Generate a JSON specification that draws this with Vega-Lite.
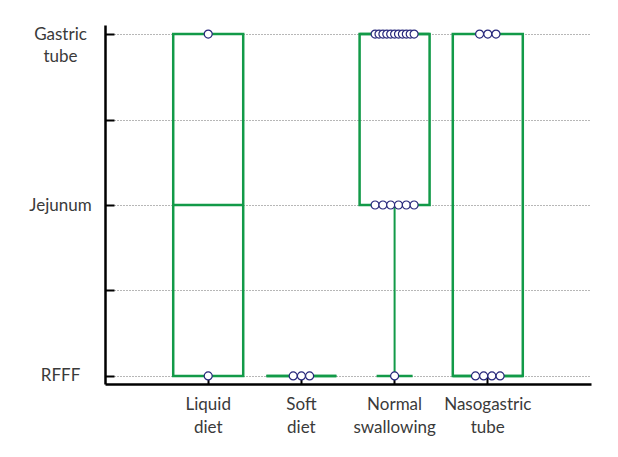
{
  "$schema": "https://vega.github.io/schema/vega-lite/v6.json",
  "width": 486,
  "height": 359,
  "autosize": {"type": "none"},
  "padding": {"left": 105, "top": 25, "right": 27, "bottom": 73},
  "background": "white",
  "config": {
    "view": {"stroke": null},
    "font": "Lato",
    "axis": {"labelFont": "Lato", "labelFontSize": 17, "labelColor": "#3a3a3a"}
  },
  "datasets": {
    "points": [
      {"diet": "Liquid diet", "level": 2},
      {"diet": "Liquid diet", "level": 0},
      {"diet": "Soft diet", "level": 0},
      {"diet": "Soft diet", "level": 0},
      {"diet": "Soft diet", "level": 0},
      {"diet": "Normal swallowing", "level": 2},
      {"diet": "Normal swallowing", "level": 2},
      {"diet": "Normal swallowing", "level": 2},
      {"diet": "Normal swallowing", "level": 2},
      {"diet": "Normal swallowing", "level": 2},
      {"diet": "Normal swallowing", "level": 2},
      {"diet": "Normal swallowing", "level": 2},
      {"diet": "Normal swallowing", "level": 2},
      {"diet": "Normal swallowing", "level": 2},
      {"diet": "Normal swallowing", "level": 2},
      {"diet": "Normal swallowing", "level": 2},
      {"diet": "Normal swallowing", "level": 1},
      {"diet": "Normal swallowing", "level": 1},
      {"diet": "Normal swallowing", "level": 1},
      {"diet": "Normal swallowing", "level": 1},
      {"diet": "Normal swallowing", "level": 1},
      {"diet": "Normal swallowing", "level": 1},
      {"diet": "Normal swallowing", "level": 0},
      {"diet": "Nasogastric tube", "level": 2},
      {"diet": "Nasogastric tube", "level": 2},
      {"diet": "Nasogastric tube", "level": 2},
      {"diet": "Nasogastric tube", "level": 0},
      {"diet": "Nasogastric tube", "level": 0},
      {"diet": "Nasogastric tube", "level": 0},
      {"diet": "Nasogastric tube", "level": 0}
    ],
    "summary": [
      {"diet": "Liquid diet", "lo": 0, "q1": 0, "median": 1, "q3": 2, "hi": 2},
      {"diet": "Soft diet", "lo": 0, "q1": 0, "median": 0, "q3": 0, "hi": 0},
      {"diet": "Normal swallowing", "lo": 0, "q1": 1, "median": 2, "q3": 2, "hi": 2},
      {"diet": "Nasogastric tube", "lo": 0, "q1": 0, "median": 0, "q3": 2, "hi": 2}
    ]
  },
  "encoding": {
    "x": {
      "field": "diet",
      "type": "nominal",
      "sort": ["Liquid diet", "Soft diet", "Normal swallowing", "Nasogastric tube"],
      "scale": {"type": "band", "paddingInner": 0, "paddingOuter": 0.6075},
      "axis": {
        "title": null,
        "labelAngle": 0,
        "labelExpr": "split(datum.label, ' ')",
        "labelLineHeight": 23,
        "labelPadding": 19,
        "tickSize": -7,
        "tickWidth": 2,
        "tickColor": "black",
        "domainColor": "black",
        "domainWidth": 2.5,
        "grid": false
      }
    }
  },
  "layer": [
    {
      "data": {"name": "summary"},
      "mark": {"type": "bar", "fill": null, "fillOpacity": 0, "stroke": "#129a48", "strokeWidth": 2.5, "width": 70},
      "encoding": {
        "y": {
          "field": "q1",
          "type": "quantitative",
          "scale": {"domain": [-0.047, 2.053], "nice": false, "zero": false},
          "axis": {
            "title": null,
            "values": [0, 0.5, 1, 1.5, 2],
            "labelExpr": "datum.value == 2 ? ['Gastric', 'tube'] : datum.value == 1 ? 'Jejunum' : datum.value == 0 ? 'RFFF' : ''",
            "labelAlign": "center",
            "labelBaseline": "middle",
            "labelLineHeight": 22,
            "labelPadding": 54,
            "tickSize": -9,
            "tickWidth": 2,
            "tickColor": "black",
            "domainColor": "black",
            "domainWidth": 2.5,
            "grid": true,
            "gridDash": [1, 2],
            "gridColor": "#6e6e6e",
            "gridWidth": 1
          }
        },
        "y2": {"field": "q3"}
      }
    },
    {
      "data": {"name": "summary"},
      "mark": {"type": "rule", "stroke": "#129a48", "strokeWidth": 2},
      "encoding": {
        "y": {"field": "lo", "type": "quantitative"},
        "y2": {"field": "q1"}
      }
    },
    {
      "data": {"name": "summary"},
      "mark": {"type": "tick", "orient": "horizontal", "color": "#129a48", "size": 70, "thickness": 2.5, "opacity": 1},
      "encoding": {
        "y": {"field": "median", "type": "quantitative"}
      }
    },
    {
      "data": {"name": "summary"},
      "transform": [{"filter": "datum.lo < datum.q1"}],
      "mark": {"type": "tick", "orient": "horizontal", "color": "#129a48", "size": 36, "thickness": 2.5, "opacity": 1},
      "encoding": {
        "y": {"field": "lo", "type": "quantitative"}
      }
    },
    {
      "data": {"name": "points"},
      "transform": [
        {"window": [{"op": "row_number", "as": "rank"}], "groupby": ["diet", "level"]},
        {"joinaggregate": [{"op": "count", "as": "n"}], "groupby": ["diet", "level"]},
        {"calculate": "(datum.rank - (datum.n + 1) / 2) * (datum.n > 1 ? min(8.2, 39 / (datum.n - 1)) : 0)", "as": "offset"}
      ],
      "mark": {"type": "point", "shape": "circle", "filled": false, "fill": "white", "fillOpacity": 1, "stroke": "#26267a", "strokeWidth": 1.2, "size": 64, "opacity": 1},
      "encoding": {
        "y": {"field": "level", "type": "quantitative"},
        "xOffset": {"field": "offset", "type": "quantitative", "scale": {"domain": [-46.6, 46.6], "range": [0, 93.2]}}
      }
    }
  ]
}
